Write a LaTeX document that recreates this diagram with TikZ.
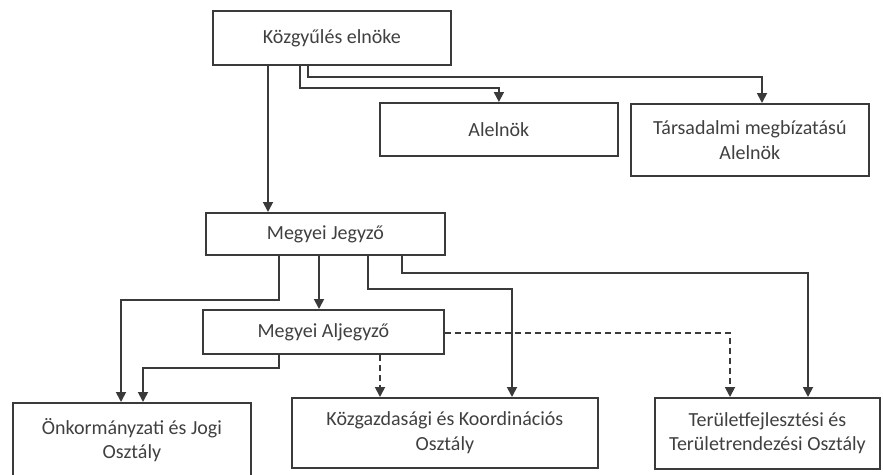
\documentclass[tikz,border=0pt]{standalone}
\usepackage{fontspec}
\setmainfont{Carlito}
\usetikzlibrary{arrows.meta}
\definecolor{ln}{HTML}{3A3A3A}
\definecolor{tx}{HTML}{404040}
\tikzset{
  box/.style={draw=ln, line width=1.8pt, anchor=north west, inner sep=0pt, align=center,
    text=tx, font=\fontsize{20pt}{24.5pt}\selectfont},
  arr/.style={draw=ln, line width=1.8pt, -{Triangle[width=10pt,length=10pt]}},
  darr/.style={arr, dash pattern=on 6pt off 4pt}
}
\begin{document}
\begin{tikzpicture}[x=1pt,y=1pt]
\clip (0,0) rectangle (883,-474);
\fill[white] (0,0) rectangle (883,-474);
\node[box, minimum width=238pt, minimum height=54pt] (top) at (212,-10) {Közgyűlés elnöke};
\node[box, minimum width=238pt, minimum height=53pt] (alelnok) at (379,-102) {Alelnök};
\node[box, minimum width=238pt, minimum height=72pt] (tars) at (630,-103) {Társadalmi megbízatású\\Alelnök};
\node[box, minimum width=239pt, minimum height=42pt] (jegyzo) at (205,-212) {Megyei Jegyző};
\node[box, minimum width=241pt, minimum height=44pt] (aljegyzo) at (202,-309) {Megyei Aljegyző};
\node[box, minimum width=238pt, minimum height=74pt] (onk) at (12,-402) {Önkormányzati és Jogi\\Osztály};
\node[box, minimum width=306pt, minimum height=70pt] (kozgazd) at (291,-397) {Közgazdasági és Koordinációs\\Osztály};
\node[box, minimum width=225pt, minimum height=71pt] (terulet) at (654,-397) {Területfejlesztési és\\Területrendezési Osztály};

\draw[arr] ([xshift=56pt]top.south west) -- ([xshift=63pt]jegyzo.north west);
\draw[arr] ([xshift=88pt]top.south west) -- ++(0,-22pt) -| (alelnok.north);
\draw[arr] ([xshift=96pt]top.south west) -- ++(0,-11pt) -| ([xshift=132pt]tars.north west);

\draw[arr] ([xshift=74pt]jegyzo.south west) -- ++(0,-44pt) -| ([xshift=109pt]onk.north west);
\draw[arr] ([xshift=114pt]jegyzo.south west) -- ([xshift=117pt]aljegyzo.north west);
\draw[arr] ([xshift=163pt]jegyzo.south west) -- ++(0,-33pt) -| ([xshift=221pt]kozgazd.north west);
\draw[arr] ([xshift=197pt]jegyzo.south west) -- ++(0,-17pt) -| ([xshift=154pt]terulet.north west);

\draw[arr] ([xshift=77pt]aljegyzo.south west) -- ++(0,-13pt) -| ([xshift=131pt]onk.north west);
\draw[darr] ([xshift=178pt]aljegyzo.south west) -- ([xshift=89pt]kozgazd.north west);
\draw[darr] ([yshift=-1pt]aljegyzo.east) -| ([xshift=76pt]terulet.north west);
\end{tikzpicture}
\end{document}
